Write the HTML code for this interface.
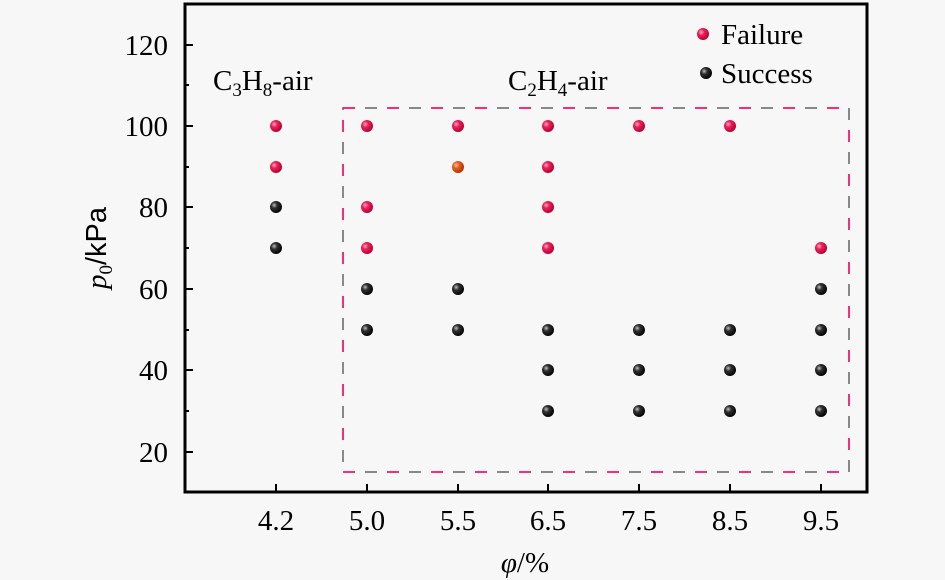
<!DOCTYPE html>
<html><head><meta charset="utf-8"><style>
html,body{margin:0;padding:0;background:#f7f7f7;}
svg{display:block;font-family:"Liberation Serif",serif;}
</style></head><body>
<svg width="945" height="580" viewBox="0 0 945 580" xmlns="http://www.w3.org/2000/svg">
<defs>
<radialGradient id="r" cx="0.35" cy="0.35" r="0.7"><stop offset="0" stop-color="#ffb0c8"/><stop offset="0.35" stop-color="#f0205a"/><stop offset="1" stop-color="#b00030"/></radialGradient>
<radialGradient id="k" cx="0.35" cy="0.35" r="0.7"><stop offset="0" stop-color="#c0c0c0"/><stop offset="0.35" stop-color="#303030"/><stop offset="1" stop-color="#000"/></radialGradient>
<radialGradient id="o" cx="0.35" cy="0.35" r="0.7"><stop offset="0" stop-color="#ffd0a0"/><stop offset="0.35" stop-color="#e86020"/><stop offset="1" stop-color="#b03000"/></radialGradient>
</defs>
<rect x="0" y="0" width="945" height="580" fill="#f7f7f7"/>
<rect x="343" y="108" width="506" height="364" fill="none" stroke="#888" stroke-width="2" stroke-dasharray="12,10"/>
<rect x="343" y="108" width="506" height="364" fill="none" stroke="#f0307a" stroke-width="2" stroke-dasharray="12,32"/>
<rect x="185" y="4" width="682" height="488" fill="none" stroke="#000" stroke-width="3"/>
<g stroke="#000" stroke-width="2">
<line x1="185" y1="45" x2="193" y2="45"/><line x1="185" y1="126" x2="193" y2="126"/><line x1="185" y1="207" x2="193" y2="207"/><line x1="185" y1="289" x2="193" y2="289"/><line x1="185" y1="370" x2="193" y2="370"/><line x1="185" y1="452" x2="193" y2="452"/>
<line x1="185" y1="85" x2="189" y2="85"/><line x1="185" y1="167" x2="189" y2="167"/><line x1="185" y1="248" x2="189" y2="248"/><line x1="185" y1="330" x2="189" y2="330"/><line x1="185" y1="411" x2="189" y2="411"/>
<line x1="276" y1="492" x2="276" y2="484"/><line x1="367" y1="492" x2="367" y2="484"/><line x1="458" y1="492" x2="458" y2="484"/><line x1="548" y1="492" x2="548" y2="484"/><line x1="639" y1="492" x2="639" y2="484"/><line x1="730" y1="492" x2="730" y2="484"/><line x1="821" y1="492" x2="821" y2="484"/>
</g>
<g font-size="29" text-anchor="end" fill="#000">
<text x="168" y="55">120</text><text x="168" y="136">100</text><text x="168" y="217">80</text><text x="168" y="299">60</text><text x="168" y="380">40</text><text x="168" y="462">20</text>
</g>
<g font-size="29" text-anchor="middle" fill="#000">
<text x="276" y="530">4.2</text><text x="367" y="530">5.0</text><text x="458" y="530">5.5</text><text x="548" y="530">6.5</text><text x="639" y="530">7.5</text><text x="730" y="530">8.5</text><text x="821" y="530">9.5</text>
</g>
<text x="525" y="572" font-size="29" text-anchor="middle"><tspan font-style="italic">φ</tspan>/%</text>
<text transform="translate(106,248) rotate(-90)" font-size="29" text-anchor="middle"><tspan font-style="italic">p</tspan><tspan font-size="19" dy="6">0</tspan><tspan dy="-6" font-family="Liberation Sans, sans-serif">/kPa</tspan></text>
<text x="213" y="90" font-size="29">C<tspan font-size="19" dy="6">3</tspan><tspan dy="-6">H</tspan><tspan font-size="19" dy="6">8</tspan><tspan dy="-6">-air</tspan></text>
<text x="508" y="90" font-size="29">C<tspan font-size="19" dy="6">2</tspan><tspan dy="-6">H</tspan><tspan font-size="19" dy="6">4</tspan><tspan dy="-6">-air</tspan></text>
<text x="721" y="44" font-size="29">Failure</text>
<text x="721" y="83" font-size="29">Success</text>
<circle cx="703" cy="34" r="6" fill="url(#r)"/>
<circle cx="706" cy="73" r="6" fill="url(#k)"/>
<g>
<circle cx="276" cy="126" r="6" fill="url(#r)"/><circle cx="276" cy="167" r="6" fill="url(#r)"/><circle cx="276" cy="207" r="6" fill="url(#k)"/><circle cx="276" cy="248" r="6" fill="url(#k)"/>
<circle cx="367" cy="126" r="6" fill="url(#r)"/><circle cx="367" cy="207" r="6" fill="url(#r)"/><circle cx="367" cy="248" r="6" fill="url(#r)"/><circle cx="367" cy="289" r="6" fill="url(#k)"/><circle cx="367" cy="330" r="6" fill="url(#k)"/>
<circle cx="458" cy="126" r="6" fill="url(#r)"/><circle cx="458" cy="167" r="6" fill="url(#o)"/><circle cx="458" cy="289" r="6" fill="url(#k)"/><circle cx="458" cy="330" r="6" fill="url(#k)"/>
<circle cx="548" cy="126" r="6" fill="url(#r)"/><circle cx="548" cy="167" r="6" fill="url(#r)"/><circle cx="548" cy="207" r="6" fill="url(#r)"/><circle cx="548" cy="248" r="6" fill="url(#r)"/><circle cx="548" cy="330" r="6" fill="url(#k)"/><circle cx="548" cy="370" r="6" fill="url(#k)"/><circle cx="548" cy="411" r="6" fill="url(#k)"/>
<circle cx="639" cy="126" r="6" fill="url(#r)"/><circle cx="639" cy="330" r="6" fill="url(#k)"/><circle cx="639" cy="370" r="6" fill="url(#k)"/><circle cx="639" cy="411" r="6" fill="url(#k)"/>
<circle cx="730" cy="126" r="6" fill="url(#r)"/><circle cx="730" cy="330" r="6" fill="url(#k)"/><circle cx="730" cy="370" r="6" fill="url(#k)"/><circle cx="730" cy="411" r="6" fill="url(#k)"/>
<circle cx="821" cy="248" r="6" fill="url(#r)"/><circle cx="821" cy="289" r="6" fill="url(#k)"/><circle cx="821" cy="330" r="6" fill="url(#k)"/><circle cx="821" cy="370" r="6" fill="url(#k)"/><circle cx="821" cy="411" r="6" fill="url(#k)"/>
</g>
</svg>
</body></html>
